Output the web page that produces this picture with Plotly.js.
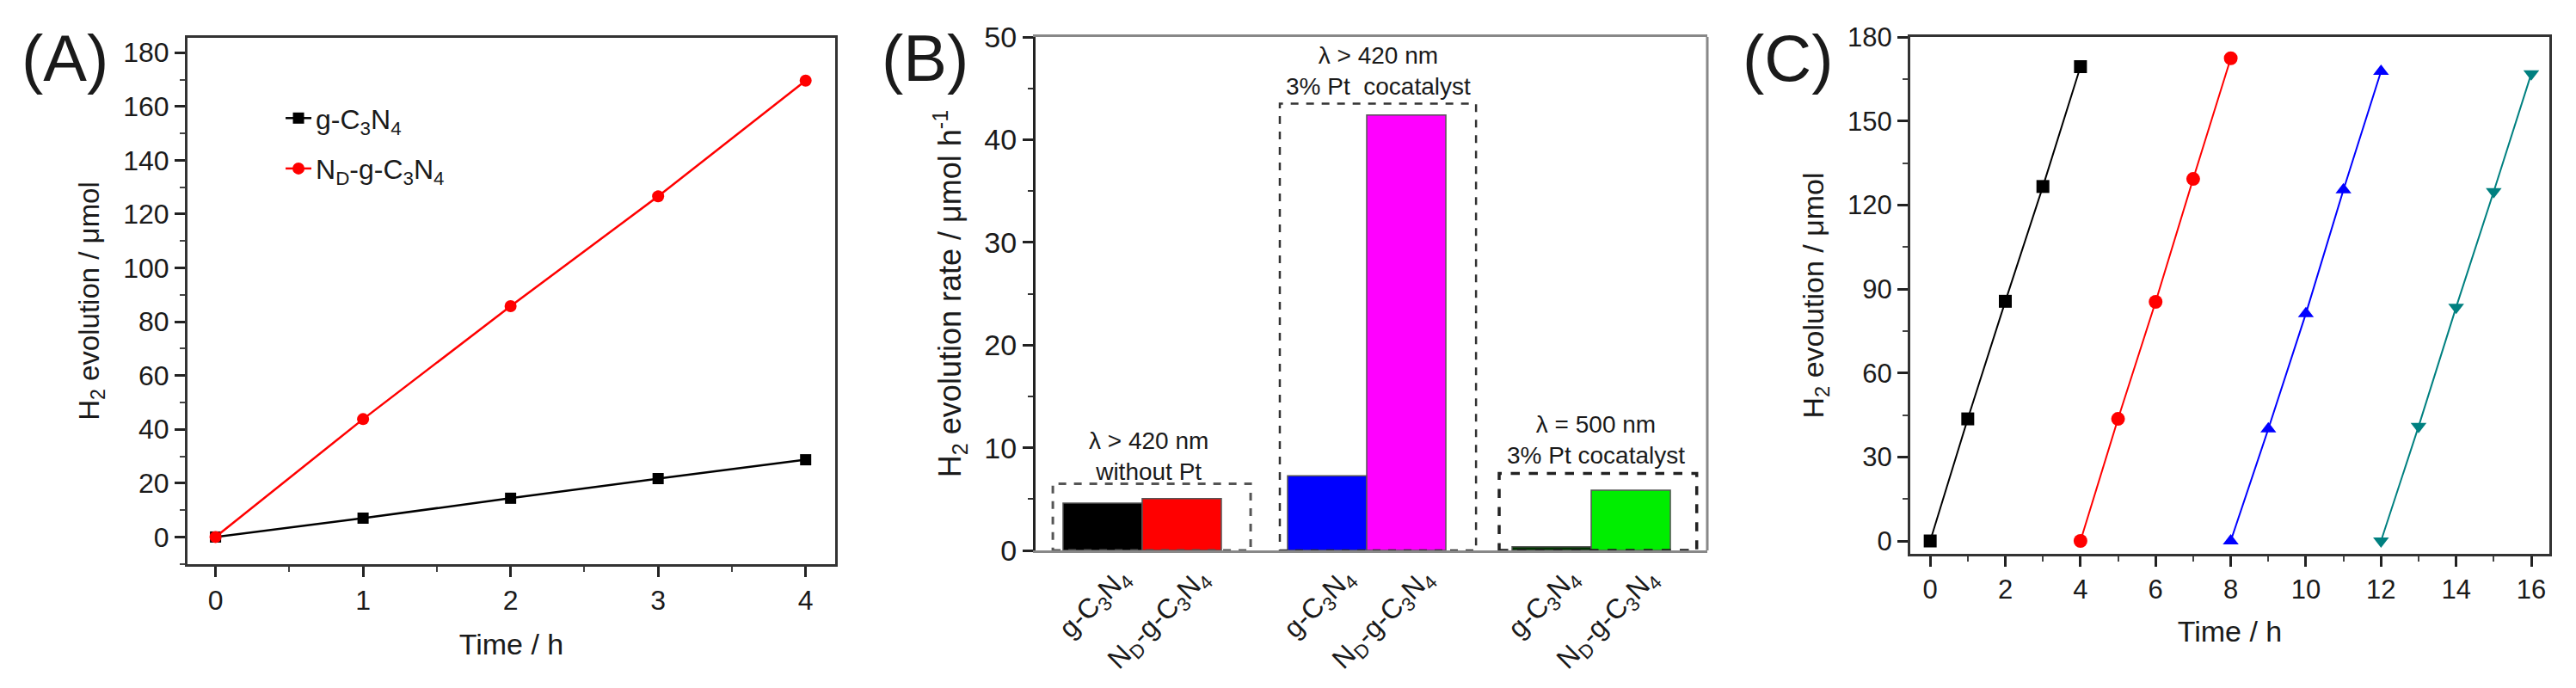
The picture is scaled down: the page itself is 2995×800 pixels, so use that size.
<!DOCTYPE html>
<html>
<head>
<meta charset="utf-8">
<script src="https://cdn.plot.ly/plotly-3.0.1.min.js"></script>
<style>html,body{margin:0;padding:0;background:#fff;}#chart{width:2995px;height:800px;}</style>
</head>
<body>
<div id="chart"></div>
<script>
// ---------- Panel A data ----------
const timeA = [0, 1, 2, 3, 4];
const h2_gCN = [0, 7.0, 14.4, 21.7, 28.7];
const h2_NDgCN = [0, 43.8, 85.8, 126.6, 169.6];
const legendA = ['g-C<sub>3</sub>N<sub>4</sub>', 'N<sub>D</sub>-g-C<sub>3</sub>N<sub>4</sub>'];

// ---------- Panel B data ----------
const conditionsB = ['λ > 420 nm<br>without Pt', 'λ > 420 nm<br>3% Pt  cocatalyst', 'λ = 500 nm<br>3% Pt cocatalyst'];
const rate_gCN = [4.6, 7.26, 0.36];
const rate_NDgCN = [5.05, 42.4, 5.86];
const colors_gCN = ['#000000', '#0000FF', '#003300'];
const colors_NDgCN = ['#FF0000', '#FF00FF', '#00EE00'];
const tickLabelsB = ['g-C<sub>3</sub>N<sub>4</sub>', 'N<sub>D</sub>-g-C<sub>3</sub>N<sub>4</sub>'];

// ---------- Panel C data ----------
const timeC1 = [0, 1, 2, 3, 4];
const timeC2 = [4, 5, 6, 7, 8];
const timeC3 = [8, 9, 10, 11, 12];
const timeC4 = [12, 13, 14, 15, 16];
const cycle1 = [0, 43.6, 85.6, 126.6, 169.4];
const cycle2 = [0, 43.6, 85.4, 129.3, 172.4];
const cycle3 = [0, 40.0, 81.2, 125.4, 167.7];
const cycle4 = [0, 40.9, 83.5, 124.8, 166.9];

const FONT = 'Liberation Sans, Arial, Helvetica, sans-serif';
const TXT = '#1a1a1a';
const bargap = 0.295;
const groupIdx = conditionsB.map((_, i) => i);
const barOff = (1 - bargap) / 4;

// rotated category labels under each bar (positions follow the bar layout)
const labelAnnotations = [];
groupIdx.forEach(i => {
  [i - barOff, i + barOff].forEach((xc, k) => {
    labelAnnotations.push({xref: 'x2', yref: 'y2', x: xc + 0.17, y: 0, yshift: -10,
      xanchor: 'right', yanchor: 'top', textangle: -45, showarrow: false,
      text: tickLabelsB[k], font: {family: FONT, size: 32, color: TXT}});
  });
});

const traces = [
  {x: timeA, y: h2_gCN, type: 'scatter', mode: 'lines+markers', name: legendA[0], legendgroup: 'a1',
   line: {color: '#000', width: 2.5}, marker: {symbol: 'square', size: 13, color: '#000'}, xaxis: 'x', yaxis: 'y'},
  {x: timeA, y: h2_NDgCN, type: 'scatter', mode: 'lines+markers', name: legendA[1], legendgroup: 'a2',
   line: {color: '#FF0000', width: 2.5}, marker: {symbol: 'circle', size: 14, color: '#FF0000'}, xaxis: 'x', yaxis: 'y'},
  {x: groupIdx, y: rate_gCN, type: 'bar', showlegend: false, xaxis: 'x2', yaxis: 'y2',
   marker: {color: colors_gCN, line: {color: '#555', width: 1.5}}},
  {x: groupIdx, y: rate_NDgCN, type: 'bar', showlegend: false, xaxis: 'x2', yaxis: 'y2',
   marker: {color: colors_NDgCN, line: {color: '#555', width: 1.5}}},
  {x: timeC1, y: cycle1, type: 'scatter', mode: 'lines+markers', showlegend: false, xaxis: 'x3', yaxis: 'y3',
   line: {color: '#000', width: 2}, marker: {symbol: 'square', size: 15, color: '#000'}},
  {x: timeC2, y: cycle2, type: 'scatter', mode: 'lines+markers', showlegend: false, xaxis: 'x3', yaxis: 'y3',
   line: {color: '#FF0000', width: 2}, marker: {symbol: 'circle', size: 16, color: '#FF0000'}},
  {x: timeC3, y: cycle3, type: 'scatter', mode: 'lines+markers', showlegend: false, xaxis: 'x3', yaxis: 'y3',
   line: {color: '#0000FF', width: 2}, marker: {symbol: 'triangle-up', size: 16, color: '#0000FF'}},
  {x: timeC4, y: cycle4, type: 'scatter', mode: 'lines+markers', showlegend: false, xaxis: 'x3', yaxis: 'y3',
   line: {color: '#008080', width: 2}, marker: {symbol: 'triangle-down', size: 16, color: '#008080'}}
];

function axisBase(extra) {
  return Object.assign({
    showline: true, linewidth: 3, linecolor: '#333', mirror: true,
    showgrid: false, zeroline: false, ticks: 'outside', ticklen: 12, tickwidth: 3, tickcolor: '#222',
    tickfont: {family: FONT, size: 32, color: TXT}, automargin: false
  }, extra);
}

const layout = {
  width: 2995, height: 800,
  margin: {l: 0, r: 0, t: 0, b: 0},
  paper_bgcolor: '#fff', plot_bgcolor: '#fff',
  font: {family: FONT, color: TXT},
  barmode: 'group', bargap: bargap, bargroupgap: 0,
  showlegend: true,
  legend: {x: 0.1092, y: 0.8625, xanchor: 'left', yanchor: 'top', bgcolor: 'rgba(0,0,0,0)',
           font: {family: FONT, size: 32, color: TXT}, tracegroupgap: 14},
  xaxis: axisBase({domain: [0.07279, 0.32421], range: [-0.19, 4.2], anchor: 'y', tickmode: 'linear', tick0: 0, dtick: 1,
    minor: {dtick: 0.5, ticklen: 6, tickwidth: 2, tickcolor: '#444', ticks: 'outside'},
    title: {text: 'Time / h', font: {family: FONT, size: 34, color: TXT}, standoff: 22}}),
  yaxis: axisBase({domain: [0.18, 0.945], range: [-10.1, 185.5], anchor: 'x', tickmode: 'linear', tick0: 0, dtick: 20,
    minor: {dtick: 10, ticklen: 6, tickwidth: 2, tickcolor: '#444', ticks: 'outside'},
    title: {text: 'H<sub>2</sub> evolution / μmol', font: {family: FONT, size: 33, color: TXT}, standoff: 18}}),
  xaxis2: axisBase({domain: [0.402, 0.66277], range: [-0.475, 2.517], anchor: 'y2', linecolor: '#888',
    showticklabels: false, ticks: ''}),
  yaxis2: axisBase({domain: [0.2, 0.94625], range: [0, 50], anchor: 'x2', mirror: false, linecolor: '#222',
    tickmode: 'linear', tick0: 0, dtick: 10, tickfont: {family: FONT, size: 34, color: TXT},
    minor: {dtick: 5, ticklen: 6, tickwidth: 2, tickcolor: '#333', ticks: 'outside'},
    title: {text: 'H<sub>2</sub> evolution rate / μmol h<sup>-1</sup>', font: {family: FONT, size: 36, color: TXT}, standoff: 16}}),
  xaxis3: axisBase({domain: [0.74157, 0.98965], range: [-0.53, 16.48], anchor: 'y3', tickmode: 'linear', tick0: 0, dtick: 2,
    tickfont: {family: FONT, size: 31, color: TXT},
    minor: {dtick: 1, ticklen: 6, tickwidth: 2, tickcolor: '#444', ticks: 'outside'},
    title: {text: 'Time / h', font: {family: FONT, size: 34, color: TXT}, standoff: 20}}),
  yaxis3: axisBase({domain: [0.195, 0.94625], range: [-4.6, 180], anchor: 'x3', tickmode: 'linear', tick0: 0, dtick: 30,
    tickfont: {family: FONT, size: 31, color: TXT},
    minor: {dtick: 15, ticklen: 6, tickwidth: 2, tickcolor: '#444', ticks: 'outside'},
    title: {text: 'H<sub>2</sub> evolution / μmol', font: {family: FONT, size: 34, color: TXT}, standoff: 18}}),
  shapes: [
    {type: 'line', xref: 'x2 domain', yref: 'y2 domain', x0: 1, x1: 1, y0: 0, y1: 1, line: {color: '#888', width: 3}},
    {type: 'rect', xref: 'x2', yref: 'y2', x0: -0.398, x1: 0.483, y0: 0, y1: 6.5, line: {color: '#555', width: 3, dash: 'dash'}},
    {type: 'rect', xref: 'x2', yref: 'y2', x0: 0.613, x1: 1.487, y0: 0, y1: 43.5, line: {color: '#333', width: 2.5, dash: 'dash'}},
    {type: 'rect', xref: 'x2', yref: 'y2', x0: 1.59, x1: 2.47, y0: 0, y1: 7.5, line: {color: '#222', width: 3.5, dash: 'dash'}}
  ],
  annotations: [
    {xref: 'paper', yref: 'paper', x: 23/2995, y: 1 - 68/800, xanchor: 'left', yanchor: 'middle', text: '(A)', showarrow: false,
     font: {family: FONT, size: 76, color: TXT}},
    {xref: 'paper', yref: 'paper', x: 1023/2995, y: 1 - 68/800, xanchor: 'left', yanchor: 'middle', text: '(B)', showarrow: false,
     font: {family: FONT, size: 76, color: TXT}},
    {xref: 'paper', yref: 'paper', x: 2024/2995, y: 1 - 68/800, xanchor: 'left', yanchor: 'middle', text: '(C)', showarrow: false,
     font: {family: FONT, size: 76, color: TXT}},
    {xref: 'x2', yref: 'y2', x: 0.03, y: 9.2, text: conditionsB[0], showarrow: false, font: {family: FONT, size: 28, color: TXT}},
    {xref: 'x2', yref: 'y2', x: 1.05, y: 46.65, text: conditionsB[1], showarrow: false, font: {family: FONT, size: 28, color: TXT}},
    {xref: 'x2', yref: 'y2', x: 2.02, y: 10.8, text: conditionsB[2], showarrow: false, font: {family: FONT, size: 28, color: TXT}}
  ].concat(labelAnnotations)
};

Plotly.newPlot('chart', traces, layout, {staticPlot: true, displayModeBar: false});
</script>
</body>
</html>
